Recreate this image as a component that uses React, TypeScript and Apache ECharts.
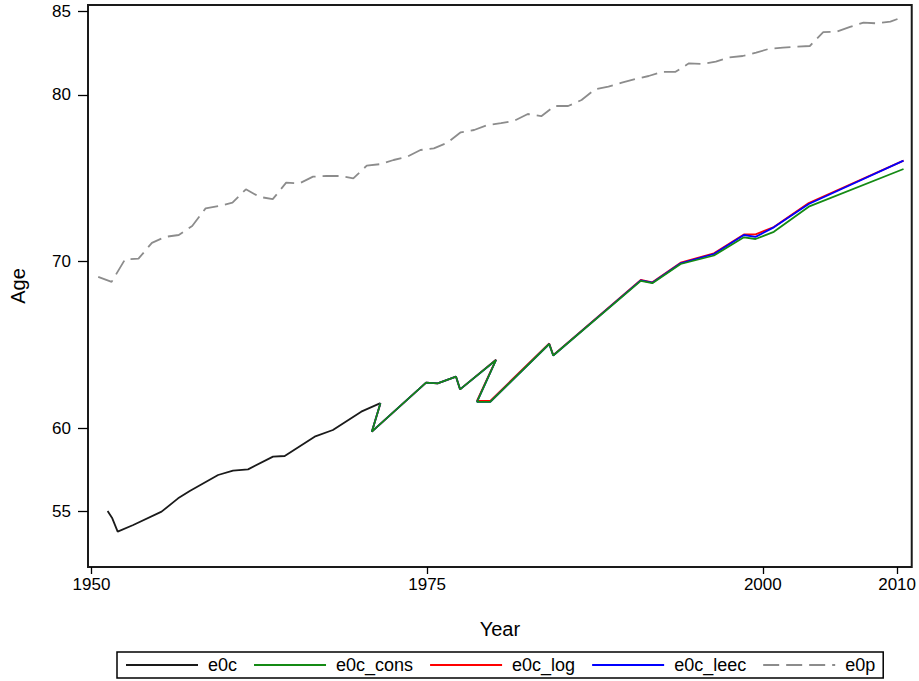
import React, { useEffect, useRef } from 'react';
import * as echarts from 'echarts';

// ---- data ----
const xTicks = [1950, 1975, 2000, 2010];
const yTicks = [55, 60, 70, 80, 85];

const e0cYears = [1951.2, 1951.55, 1951.95, 1953.11, 1955.22, 1956.45, 1957.32, 1959.43, 1960.54, 1961.66, 1963.52, 1964.39, 1966.62, 1967.98, 1970.09, 1971.52];
const e0cValues = [55.03, 54.59, 53.79, 54.19, 54.99, 55.79, 56.23, 57.19, 57.45, 57.53, 58.29, 58.33, 59.49, 59.89, 60.99, 61.5];

const projYears = [1971.52, 1970.88, 1974.92, 1975.78, 1977.15, 1977.45, 1980.13, 1978.71, 1979.7, 1984.09, 1984.39, 1990.91, 1991.77, 1993.88, 1996.36, 1998.59, 1999.46, 2000.82, 2003.42, 2010.48];
const e0cConsValues = [61.49, 59.79, 62.73, 62.69, 63.09, 62.33, 64.09, 61.58, 61.58, 65.05, 64.36, 68.84, 68.7, 69.85, 70.36, 71.45, 71.35, 71.78, 73.29, 75.55];
const e0cLogValues = [61.49, 59.79, 62.73, 62.69, 63.09, 62.33, 64.11, 61.64, 61.64, 65.08, 64.38, 68.9, 68.75, 69.93, 70.49, 71.62, 71.63, 72.07, 73.51, 76.05];
const e0cLeecValues = [61.49, 59.79, 62.73, 62.69, 63.09, 62.33, 64.09, 61.58, 61.58, 65.05, 64.36, 68.87, 68.73, 69.89, 70.45, 71.59, 71.48, 72.05, 73.45, 76.05];

const e0pYears = [1950.5, 1951.5, 1952.5, 1953.5, 1954.5, 1955.5, 1956.5, 1957.5, 1958.5, 1959.5, 1960.5, 1961.5, 1962.5, 1963.5, 1964.5, 1965.5, 1966.5, 1967.5, 1968.5, 1969.5, 1970.5, 1971.5, 1972.5, 1973.5, 1974.5, 1975.5, 1976.5, 1977.5, 1978.5, 1979.5, 1980.5, 1981.5, 1982.5, 1983.5, 1984.5, 1985.5, 1986.5, 1987.5, 1988.5, 1989.5, 1990.5, 1991.5, 1992.5, 1993.5, 1994.5, 1995.5, 1996.5, 1997.5, 1998.5, 1999.5, 2000.5, 2001.5, 2002.5, 2003.5, 2004.5, 2005.5, 2006.5, 2007.5, 2008.5, 2009.5, 2010.5];
const e0pValues = [69.08, 68.78, 70.13, 70.17, 71.12, 71.48, 71.59, 72.13, 73.19, 73.33, 73.53, 74.33, 73.88, 73.74, 74.73, 74.69, 75.09, 75.13, 75.13, 74.99, 75.75, 75.84, 76.09, 76.28, 76.69, 76.79, 77.13, 77.75, 77.89, 78.19, 78.3, 78.45, 78.85, 78.72, 79.33, 79.33, 79.69, 80.33, 80.49, 80.73, 80.95, 81.13, 81.38, 81.38, 81.89, 81.85, 81.99, 82.25, 82.33, 82.53, 82.77, 82.83, 82.89, 82.93, 83.76, 83.79, 84.08, 84.33, 84.29, 84.39, 84.69];

const FONT = 'Liberation Sans, Arial, sans-serif';

function pairs(xs: number[], ys: number[]) {
  return xs.map((x, i) => [x, ys[i]]);
}

export default function App() {
  const ref = useRef<HTMLDivElement>(null);
  useEffect(() => {
    const chart = echarts.init(ref.current!, null, { renderer: 'svg' });
    const lineSeries = (name: string, data: number[][], color: string, extra: any = {}) => ({
      name,
      type: 'line',
      data,
      symbol: 'none',
      showSymbol: false,
      color,
      itemStyle: { color },
      lineStyle: { color, width: 1.8, ...(extra.lineStyle || {}) },
      z: extra.z ?? 2,
    });
    chart.setOption({
      animation: false,
      backgroundColor: '#fff',
      textStyle: { fontFamily: FONT },
      grid: {
        left: 88,
        right: 6,
        top: 5,
        bottom: 114,
        show: true,
        borderColor: '#1a1a1a',
        borderWidth: 2,
        backgroundColor: 'transparent',
      },
      xAxis: {
        type: 'value',
        min: 1949.74,
        max: 2011.09,
        name: 'Year',
        nameLocation: 'middle',
        nameGap: 52,
        nameTextStyle: { fontSize: 20, color: '#000', fontFamily: FONT },
        axisLine: { show: false },
        splitLine: { show: false },
        axisTick: { show: true, customValues: xTicks, length: 7, inside: false, lineStyle: { color: '#000', width: 1.3 } },
        axisLabel: {
          customValues: xTicks,
          formatter: (v: number) => String(v),
          fontSize: 17,
          color: '#000',
          fontFamily: FONT,
          margin: 9,
        },
      },
      yAxis: {
        type: 'value',
        min: 51.67,
        max: 85.39,
        name: 'Age',
        nameLocation: 'middle',
        nameRotate: 90,
        nameGap: 60,
        nameTextStyle: { fontSize: 20, color: '#000', fontFamily: FONT },
        axisLine: { show: false },
        splitLine: { show: false },
        axisTick: { show: true, customValues: yTicks, length: 10, inside: false, lineStyle: { color: '#000', width: 1.3 } },
        axisLabel: {
          customValues: yTicks,
          formatter: (v: number) => String(v),
          fontSize: 17,
          color: '#000',
          fontFamily: FONT,
          margin: 17,
        },
      },
      legend: {
        left: 117,
        top: 652,
        orient: 'horizontal',
        data: ['e0c', 'e0c_cons', 'e0c_log', 'e0c_leec', 'e0p'],
        itemWidth: 72,
        itemHeight: 12,
        itemGap: 16,
        padding: [4, 8, 4, 8],
        borderColor: '#000',
        borderWidth: 1.5,
        itemStyle: { opacity: 0 },
        textStyle: { fontSize: 18, color: '#000', fontFamily: FONT, padding: [0, 0, 0, 5] },
      },
      series: [
        lineSeries('e0c', pairs(e0cYears, e0cValues), '#1a1a1a'),
        lineSeries('e0c_cons', pairs(projYears, e0cConsValues), '#148a14', { z: 4 }),
        lineSeries('e0c_log', pairs(projYears, e0cLogValues), '#ff0000', { z: 2 }),
        lineSeries('e0c_leec', pairs(projYears, e0cLeecValues), '#0000ff', { z: 3 }),
        lineSeries('e0p', pairs(e0pYears, e0pValues), '#8c8c8c', { lineStyle: { type: [16, 7] } }),
      ],
    });
    return () => chart.dispose();
  }, []);
  return (
    <div
      ref={ref}
      style={{ position: 'fixed', left: 0, top: 0, width: 919, height: 681, background: '#fff' }}
    />
  );
}
